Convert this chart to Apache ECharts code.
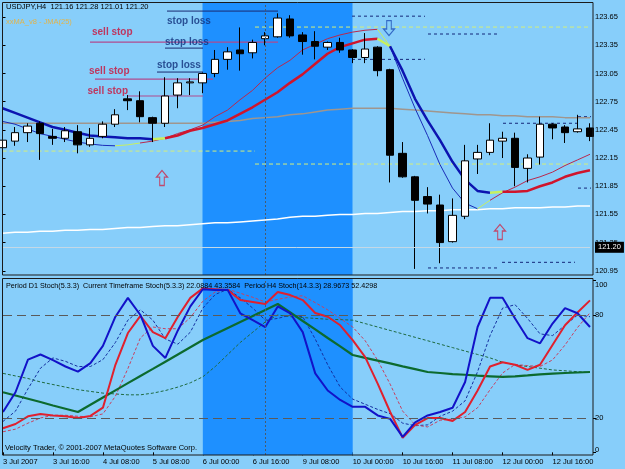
<!DOCTYPE html>
<html><head><meta charset="utf-8">
<script src="https://cdn.jsdelivr.net/npm/echarts@6/dist/echarts.min.js"></script>
<style>html,body{margin:0;padding:0;background:#87cefa}#c{width:625px;height:469px}</style>
</head><body><div id="c"></div>
<script>
// ---------- data ----------
const dateLabels = ['3 Jul 2007','3 Jul 16:00','4 Jul 08:00','5 Jul 08:00','6 Jul 00:00','6 Jul 16:00','9 Jul 08:00','10 Jul 00:00','10 Jul 16:00','11 Jul 08:00','12 Jul 00:00','12 Jul 16:00'];
const opens  = [122.26,122.33,122.42,122.52,122.38,122.36,122.43,122.29,122.38,122.51,122.78,122.76,122.58,122.52,122.82,122.95,122.95,123.05,123.20,123.30,123.27,123.42,123.44,123.63,123.46,123.39,123.33,123.38,123.30,123.22,123.33,123.09,122.20,121.95,121.74,121.65,121.26,121.53,122.14,122.21,122.33,122.36,122.04,122.16,122.51,122.48,122.43,122.47];
const highs  = [122.40,122.48,122.52,122.54,122.46,122.48,122.50,122.47,122.54,122.67,122.82,122.86,122.59,123.01,123.00,123.00,123.06,123.30,123.33,123.54,123.41,123.49,123.69,123.67,123.49,123.50,123.39,123.43,123.31,123.48,123.34,123.10,122.32,121.96,121.84,121.76,121.72,122.29,122.29,122.52,122.43,122.42,122.19,122.59,122.52,122.50,122.61,122.52];
const lows   = [122.22,122.28,122.32,122.13,122.29,122.32,122.20,122.27,122.36,122.48,122.66,122.53,122.32,122.48,122.68,122.82,122.84,123.01,123.09,123.08,123.21,123.35,123.43,123.43,123.25,123.20,123.30,123.27,123.16,123.16,123.02,121.89,121.94,120.97,121.56,121.03,121.25,121.50,121.98,122.18,122.15,121.85,121.89,122.08,122.35,122.31,122.42,122.33];
const closes = [122.34,122.42,122.49,122.41,122.36,122.44,122.29,122.36,122.51,122.61,122.76,122.59,122.52,122.81,122.95,122.96,123.05,123.20,123.28,123.26,123.38,123.45,123.64,123.45,123.39,123.34,123.38,123.30,123.22,123.31,123.08,122.18,121.95,121.70,121.66,121.25,121.54,122.12,122.21,122.34,122.36,122.05,122.15,122.51,122.47,122.42,122.46,122.38];
const priceTicks = [120.95,121.25,121.55,121.85,122.15,122.45,122.75,123.05,123.35,123.65];
const stochTicks = [0,20,80,100];
const bidPrice = 121.20;
const jmaSlow = [122.68,122.63,122.58,122.53,122.48,122.45,122.42,122.39,122.38,122.37,122.36,122.36,122.35,122.36,122.39,122.44,122.47,122.51,122.55,122.62,122.69,122.77,122.85,122.95,123.04,123.15,123.26,123.33,123.37,123.41,123.42,123.34,123.08,122.78,122.55,122.34,122.11,121.92,121.80,121.78,121.79,121.79,121.80,121.85,121.89,121.95,121.99,122.02];
const jmaFast = [122.54,122.51,122.46,122.41,122.38,122.35,122.32,122.30,122.285,122.28,122.29,122.31,122.33,122.36,122.41,122.45,122.50,122.59,122.66,122.77,122.87,123.00,123.11,123.19,123.30,123.36,123.42,123.46,123.49,123.51,123.52,123.34,123.00,122.68,122.39,122.08,121.83,121.67,121.61,121.70,121.78,121.84,121.91,121.95,122.00,122.07,122.13,122.19];
const slowRuns = [[0,12,'down'],[12,13,'turn'],[13,30,'up'],[30,31,'turn'],[31,39,'down'],[39,40,'turn'],[40,47,'up']];
const fastRuns = [[0,9,'down'],[9,11,'turn'],[11,30,'up'],[30,31,'turn'],[31,38,'down'],[38,39,'turn'],[39,47,'up']];
const maMid = [122.52,122.52,122.52,122.52,122.52,122.52,122.52,122.52,122.52,122.52,122.52,122.52,122.52,122.52,122.52,122.52,122.52,122.53,122.54,122.55,122.57,122.58,122.59,122.61,122.62,122.64,122.66,122.67,122.68,122.68,122.68,122.68,122.67,122.66,122.65,122.64,122.63,122.62,122.61,122.61,122.60,122.60,122.59,122.59,122.59,122.58,122.58,122.58];
const maLong = [121.35,121.36,121.36,121.37,121.37,121.38,121.38,121.39,121.39,121.40,121.41,121.41,121.42,121.43,121.43,121.44,121.45,121.46,121.46,121.47,121.48,121.49,121.50,121.52,121.53,121.53,121.54,121.55,121.55,121.56,121.56,121.57,121.58,121.58,121.59,121.59,121.60,121.60,121.60,121.61,121.61,121.62,121.62,121.62,121.63,121.63,121.64,121.64];
// level segments: [fromBar, toBar, price]
const stopLossLevels = [[13.16,22.04,123.714],[13.0,16.04,123.32],[12.36,16.04,123.065]];
const sellStopLevels = [[7.0,22.04,123.384],[7.4,16.84,122.99],[9.96,16.04,122.81]];
const stopDashLevels = [[27.96,33.8,123.66],[34.04,39.8,123.47],[27.96,33.8,123.20],[34.04,39.8,120.98],[39.96,45.8,121.04],[40.04,46.04,122.52],[46.04,47.3,122.59],[46.04,47.3,121.83]];
const pivotLevels = [[0,20.2,122.224],[20.2,47,122.086],[20.2,47,123.544]];
const noteTexts = ['sell stop','stop loss','stop loss','stop loss','sell stop','sell stop'];
const noteBars = [7.16,13.16,13.0,12.36,6.92,6.8];
const notePrices = [123.485,123.602,123.384,123.139,123.076,122.857];
const arrowBars = [12.76,30.92,39.8];
const arrowPrices = [121.937,123.533,121.363];
const arrowDirs = ['up','down','up'];
const stochBlue = [23.5,35,54,57,53.7,50,47,52,62,79,90,80,62,55,71,85,95,94.5,94.5,81,77,73,85,81,70,46,36,30.5,26.5,26.5,21.5,19.5,9,17.5,21.5,23.5,26,41,73,90,90,78,66.5,63.5,75,84,81,73];
const stochBlueSig = [18,24,37,49,55,53,50,50,54,64,77,83,77,66,63,70,84,92,95,90,84,77,78,80,79,66,51,38,31,28,25,22.5,17,15.5,16,21,24,30,47,68,84,86,78,69,68,74,80,79];
const stochRed = [14,16.5,21,22.3,21.5,21,20,21.2,26,51,69.5,79.5,70,66.5,79,90,95.5,95,94.5,88.7,87.6,86.4,93.4,91.6,88.7,81.2,79,74,65.4,55.5,40,23.5,8.5,16,20,20,18.3,23.5,36,50,52.5,51,48,51,62.5,74,81.5,88.5];
const stochRedSig = [12,13.5,17,20,21.6,21.6,21,20.7,22.4,32.7,48.8,66.7,73,72,72,78.5,88,93.5,95,92.7,90.3,87.6,89.1,90.5,91.2,87.2,83,78,73,65,53.6,39.7,24,16,14.8,18.7,19.4,20.6,26,36.5,46.2,51.2,50.5,50,53.8,62.5,72.7,81.3];
const stochD1 = [35,33.1,31.2,29.3,27.3,25.4,23.5,27.7,31.9,36.1,40.3,44.5,48.6,52.8,57,61.2,65.4,68.9,72.4,75.9,79.4,82.9,86.4,81.5,76.5,71.6,66.6,61.7,56.7,55,53.4,51.8,50.1,48.5,46.8,46.2,45.6,45.2,44.7,44.3,43.9,44.3,44.8,45.4,45.8,46.2,46.5,46.8];
const stochD1Sig = [46,44.5,43,41,39.5,38,36.5,35.5,34.5,34,33.5,33.5,34.5,36,38,40.5,44,50,57,64,70,76,80,79,78.5,78,77.5,77.3,77,75,73,71,69,67,65,63,61,59,57,55,52.5,51,50,49,48,47.5,47,46.5];
const highlightFrom = 16, highlightTo = 28, cursorBar = 21;

// ---------- chart ----------
const N = opens.length;
const cats = opens.map((_, i) => 'b' + i);
const BG = '#87cefa', DARK = '#1e90ff';
const FONT = '"Liberation Sans", Arial, sans-serif';

function ln(data, xi, yi, color, width, type, z) {
  return {type:'line', xAxisIndex:xi, yAxisIndex:yi, data, showSymbol:false, symbol:'none',
    silent:true, z:z || 3, connectNulls:false, lineStyle:{color, width, type:type || 'solid'}};
}
function runSeries(values, runs, colors, width) {
  return runs.map(([a, b, c]) => ln(values.map((v, i) => (i >= a && i <= b) ? v : null), 0, 0, colors[c], width));
}
function segSeries(list, color, width, type) {
  return list.map(([a, b, p]) => ln([[a, p], [b, p]], 2, 0, color, width, type, 2));
}
const upArrow = 'path://M6,0 L12,7 L8.5,7 L8.5,16 L3.5,16 L3.5,7 L0,7 Z';
const downArrow = 'path://M3.5,0 L8.5,0 L8.5,9 L12,9 L6,16 L0,9 L3.5,9 Z';

const series = [
  {type:'line', xAxisIndex:0, yAxisIndex:0, data:new Array(N).fill(null), z:1, silent:true,
   markArea:{silent:true, itemStyle:{color:DARK}, data:[[{xAxis:cats[highlightFrom]}, {xAxis:cats[highlightTo]}]]},
   markLine:{silent:true, symbol:['none','none'], label:{show:false}, lineStyle:{color:'#4a5a6a', type:[2,2], width:1}, data:[{xAxis:cats[cursorBar]}]}},
  {type:'line', xAxisIndex:1, yAxisIndex:1, data:new Array(N).fill(null), z:1, silent:true,
   markArea:{silent:true, itemStyle:{color:DARK}, data:[[{xAxis:cats[highlightFrom]}, {xAxis:cats[highlightTo]}]]},
   markLine:{silent:true, symbol:['none','none'], label:{show:false}, lineStyle:{color:'#5a5a5a', type:[9,5], width:1},
     data:[{yAxis:80}, {yAxis:20}, {xAxis:cats[cursorBar], lineStyle:{color:'#4a5a6a', type:[2,2], width:1}}]}},
  ...segSeries(pivotLevels, '#d4ee7a', 1, [4,3]),
  ...segSeries(stopDashLevels, '#15287a', 1, [3,3]),
  ...segSeries(stopLossLevels, '#1a2a70', 1),
  ...segSeries(sellStopLevels, '#b04a8e', 1.2),
  ln(maLong, 0, 0, '#ffffff', 1.5),
  ln(maMid, 0, 0, '#a0968e', 1.5),
  {type:'candlestick', xAxisIndex:0, yAxisIndex:0, z:4, barWidth:8, silent:true, clip:false,
   data: opens.map((o, i) => [o, closes[i], lows[i], highs[i]]),
   itemStyle:{color:'#ffffff', color0:'#000000', borderColor:'#000000', borderColor0:'#000000', borderWidth:1},
   markLine:{silent:true, symbol:['none','none'], lineStyle:{color:'#c4d8e6', type:'solid', width:1},
     label:{show:true, position:'end', distance:5, formatter:bidPrice.toFixed(2), backgroundColor:'#000', color:'#fff',
            padding:[2,3,1,3], fontFamily:FONT, fontSize:7.5},
     data:[{yAxis:bidPrice}]}},
  ...runSeries(jmaFast, fastRuns, {down:'#1a2cb8', up:'#b8284e', turn:'#c8f060'}, 1),
  ...runSeries(jmaSlow, slowRuns, {down:'#0c14b0', up:'#d0142c', turn:'#c8f060'}, 2.5),
  {type:'scatter', xAxisIndex:2, yAxisIndex:0, z:6, silent:true, symbolSize:0,
   data: noteTexts.map((t, i) => ({value:[noteBars[i], notePrices[i]], name:t,
     label:{color: t === 'sell stop' ? '#cc1038' : '#10307a'}})),
   label:{show:true, position:'right', distance:0, formatter:p => p.name, fontFamily:FONT, fontWeight:'bold', fontSize:10}},
  {type:'scatter', xAxisIndex:2, yAxisIndex:0, z:6, silent:true,
   data: arrowBars.map((b, i) => ({value:[b, arrowPrices[i]], symbol: arrowDirs[i] === 'up' ? upArrow : downArrow,
     itemStyle:{color:BG, borderColor: arrowDirs[i] === 'up' ? '#d02848' : '#1e50b8', borderWidth:1.2}})),
   symbolSize:[11,15]},
  ln(stochD1Sig, 1, 1, '#1e6a40', 1, [3,2]),
  ln(stochBlueSig, 1, 1, '#1530a0', 1, [3,2]),
  ln(stochRedSig, 1, 1, '#c84060', 1, [3,2]),
  ln(stochD1, 1, 1, '#0c6a2e', 2.2),
  ln(stochRed, 1, 1, '#e0202e', 2),
  ln(stochBlue, 1, 1, '#1212c8', 2)
];

const axisText = {color:'#000', fontFamily:FONT, fontSize:7.5};
const option = {
  animation:false,
  backgroundColor:BG,
  grid:[{left:2.5, right:35, top:3, height:272}, {left:2.5, right:35, top:278, height:177}],
  xAxis:[
    {type:'category', gridIndex:0, data:cats, boundaryGap:false, show:false},
    {type:'category', gridIndex:1, data:cats, boundaryGap:false,
     axisLine:{show:false}, axisTick:{show:true, interval:3, length:3, lineStyle:{color:'#000'}},
     axisLabel:{...axisText, interval:3, align:'left', margin:3, formatter:(v, i) => dateLabels[i / 4] || ''},
     splitLine:{show:false}},
    {type:'value', gridIndex:0, min:0, max:N - 1, show:false}
  ],
  yAxis:[
    {type:'value', gridIndex:0, position:'right', offset:3, min:120.905, max:123.80,
     axisLine:{show:false}, splitLine:{show:false},
     axisTick:{show:true, length:3, lineStyle:{color:'#000'}, customValues:priceTicks},
     axisLabel:{...axisText, margin:2, customValues:priceTicks, formatter:v => v.toFixed(2)}},
    {type:'value', gridIndex:1, position:'right', offset:3, min:-1.55, max:101.55,
     axisLine:{show:false}, splitLine:{show:false},
     axisTick:{show:true, length:3, lineStyle:{color:'#000'}, customValues:stochTicks},
     axisLabel:{...axisText, margin:2, customValues:stochTicks,
       formatter:v => v === 100 ? '{top|100}' : v === 0 ? '{bot|0}' : String(v),
       rich:{top:{...axisText, padding:[8,0,0,0]}, bot:{...axisText, padding:[0,0,4,0]}}}}
  ],
  graphic:[
    {type:'rect', z:100, silent:true, shape:{x:2.5, y:2.5, width:590.5, height:272.5}, style:{fill:null, stroke:'#1a1a1a', lineWidth:1}},
    {type:'rect', z:100, silent:true, shape:{x:2.5, y:278.5, width:590.5, height:176.5}, style:{fill:null, stroke:'#1a1a1a', lineWidth:1}},
    {type:'text', z:101, x:6, y:3, style:{text:'USDJPY,H4  121.16 121.28 121.01 121.20', fill:'#000', font:'7.5px ' + FONT}},
    {type:'text', z:101, x:6, y:18, style:{text:'xxMA_v8 - JMA(25)', fill:'#e2b44a', font:'7.5px ' + FONT}},
    {type:'text', z:101, x:6, y:283, style:{text:'Period D1 Stoch(5.3.3)  Current Timeframe Stoch(5.3.3) 22.0884 43.3584  Period H4 Stoch(14.3.3) 28.9673 52.4298', fill:'#000', font:'7.2px ' + FONT}},
    {type:'text', z:101, x:5, y:444, style:{text:'Velocity Trader, \u00a9 2001-2007 MetaQuotes Software Corp.', fill:'#000', font:'7.5px ' + FONT}}
  ],
  series
};
const chart = echarts.init(document.getElementById('c'));
chart.setOption(option);
</script>
</body></html>
